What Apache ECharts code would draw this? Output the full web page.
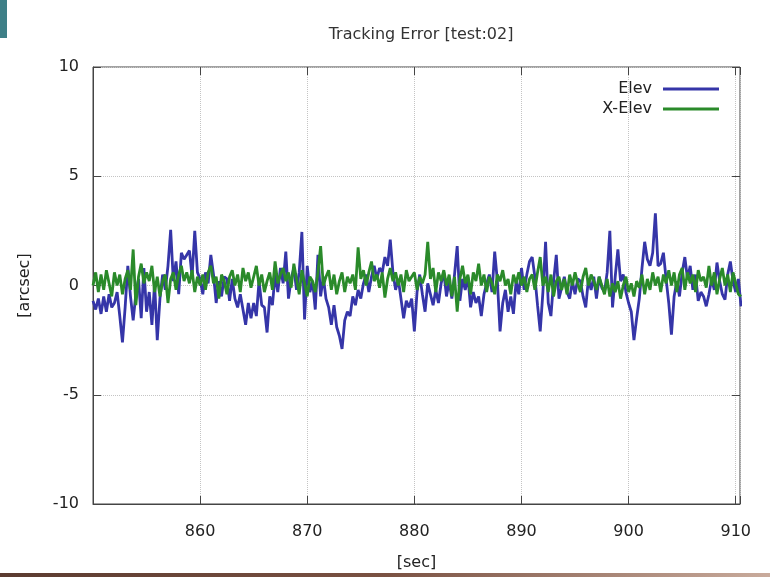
<!DOCTYPE html>
<html>
<head>
<meta charset="utf-8">
<title>Tracking Error</title>
<script src="https://cdn.jsdelivr.net/npm/echarts@6/dist/echarts.min.js"></script>
<style>
  html, body { margin: 0; padding: 0; background: #fff; }
  #main { width: 770px; height: 577px; }
</style>
</head>
<body>
<div id="main"></div>
<script>
// sample start / step of the recording [sec]
var t0 = 850;
var dt = 0.25;

// Elev, 4 samples per second
var elev = [
  -0.7, -1.1, -0.6, -1.3,
  -0.5, -1.2, -0.4, -1.0,
  -0.8, -0.3, -1.4, -2.6,
  -1.0, 0.9, -0.5, -1.6,
  -0.4, 0.3, -1.5, 0.8,
  -1.2, -0.3, -1.8, 0.1,
  -2.5, -0.6, 0.5, -0.2,
  0.9, 2.55, 0.2, 1.1,
  -0.4, 1.5, 1.2, 1.4,
  1.6, 0.4, 2.5, 0.6,
  0.3, -0.4, 0.6, 0.1,
  1.4, 0.5, -0.8, 0.2,
  -0.5, 0.4, 0.3, -0.7,
  0.3, -0.6, -1.0, -0.4,
  -1.1, -1.8, -0.8, -1.5,
  -0.8, -1.4, 0.2, -0.9,
  -1.0, -2.15, -0.5, -0.9,
  0.5, -0.3, 0.8, 0.1,
  1.55, -0.6, 0.3, 0.8,
  -0.2, 0.6, 2.45, -1.55,
  0.9, -0.3, 0.2, -1.1,
  1.4, -0.5, 0.4, -0.6,
  -1.0, -1.8, -0.9, -1.9,
  -2.3, -2.9, -1.6, -1.2,
  -1.4, -0.5, -0.9, -0.2,
  -0.6, 0.1, 0.5, -0.3,
  0.4, 0.9, 0.3, 0.8,
  0.6, 1.3, 0.9, 2.1,
  0.6, -0.2, 0.3, -0.6,
  -1.5, -0.7, -1.0, -0.6,
  -2.1, -0.3, 0.5, -0.4,
  -1.2, 0.1, -0.4, -0.9,
  -0.2, -0.8, 0.1, 0.6,
  -0.5, 0.2, -0.6, 0.5,
  1.8, -0.7, 0.3, -0.2,
  0.4, -1.0, -0.3, -0.8,
  -0.5, -1.4, -0.4, 0.1,
  0.5, -0.3, 1.55, 0.2,
  -2.1, -0.8, -0.2, -1.2,
  -0.5, -1.3, 0.2, -0.4,
  0.8, -0.2, 0.5, 1.1,
  1.3, 0.4, -0.9, -2.1,
  -0.3, 2.0, -0.8, -1.4,
  0.2, 1.4, -0.6, -0.1,
  0.4, -0.3, -0.6, 0.2,
  -0.4, 0.3, 0.2, -0.5,
  -1.0, 0.3, -0.2, 0.4,
  -0.6, 0.4, -0.1, -0.3,
  0.6, 2.5, -1.0, 0.4,
  1.65, 0.2, 0.5, -0.3,
  -0.8, -1.2, -2.5, -1.5,
  -0.6, 0.8, 2.0, 1.2,
  0.9, 1.5, 3.3, 0.9,
  1.0, 1.5, 0.3, -0.8,
  -2.25, -0.5, 0.2, -0.5,
  0.6, 1.3, 0.3, 0.9,
  -0.2, 0.5, -0.7, -0.3,
  -0.5, -0.95, -0.4, 0.3,
  -0.2, 1.05, 0.2, -0.4,
  -0.65, 0.5, 1.1, 0.2,
  -0.3, 0.3, -0.95
];

// X-Elev
var xelev = [
  0.0, 0.6, -0.3, 0.5,
  -0.2, 0.7, 0.1, -0.5,
  0.6, 0.0, 0.5, -0.4,
  0.3, 0.7, -0.2, 1.65,
  -0.9, 0.4, 1.0, 0.1,
  0.6, 0.2, 0.9, -0.3,
  0.4, -0.5, 0.2, 0.5,
  -0.8, 0.3, 0.6, -0.2,
  0.5, 0.9, 0.2, 0.6,
  0.1, 0.7, -0.3, 0.4,
  0.0, 0.5, -0.2, 0.6,
  0.9, 0.1, 0.4, -0.6,
  0.5, 0.2, -0.4, 0.4,
  0.7, 0.0, 0.5, -0.3,
  0.8, 0.2, 0.6, -0.1,
  0.4, 0.9, 0.0, 0.5,
  -0.3, 0.2, 0.6, -0.2,
  1.1, 0.1, 0.5, 0.8,
  0.2, 0.6, -0.1, 1.0,
  0.3, -0.4, 0.7, 0.1,
  -0.5, 0.4, 0.2, -0.3,
  0.6, 1.8, 0.0, 0.4,
  0.7, -0.2, 0.5, -0.4,
  0.2, 0.6, -0.3, 0.4,
  0.1, 0.5, -0.2, 1.75,
  0.3, 0.7, 0.0, 0.6,
  1.1, 0.2, 0.5, -0.1,
  0.6, -0.55, 0.3, 0.8,
  0.2, 0.6, 0.0, 0.5,
  -0.3, 0.7, 0.2, 0.4,
  0.6, -0.2, 0.4, 0.1,
  0.5, 2.0, 0.3, 0.8,
  -0.3, 0.6, 0.2, 0.7,
  0.0, 0.5, -0.5, 0.4,
  -1.2, 0.3, 0.9, 0.1,
  0.5, -0.4, 0.6, 0.2,
  1.0, 0.0, 0.5, -0.3,
  0.4, 0.1, -0.4, 0.5,
  0.2, 0.7, 0.0, 0.3,
  -0.4, 0.5, 0.1, 0.6,
  0.0, 0.4, -0.3, 0.3,
  0.5, -0.2, 0.6, 1.3,
  0.0, 0.4, -0.3, 0.5,
  -0.5, 0.2, 0.4, -0.2,
  0.3, -0.4, 0.5, 0.0,
  0.6, 0.1, -0.3, 0.4,
  0.8, 0.0, 0.5, 0.2,
  -0.2, 0.4, 0.0, -0.4,
  0.3, -0.5, 0.1, -0.3,
  0.2, -0.6, 0.0, 0.4,
  -0.3, 0.1, -0.5, 0.2,
  -0.1, 0.5, -0.4, 0.3,
  -0.2, 0.6, 0.0, 0.4,
  -0.3, 0.5, 0.1, 0.7,
  0.0, 0.6, -0.3, 0.5,
  0.8, -0.2, 0.6, 0.1,
  0.5, -0.3, 0.7, 0.2,
  0.4, -0.1, 0.9, 0.0,
  0.6, -0.4, 0.3, 0.8,
  0.0, 0.5, -0.3, 0.6,
  0.1, -0.4, -0.5
];

var xTicks = [860, 870, 880, 890, 900, 910];
var seriesNames = ['Elev', 'X-Elev'];

var FONT = 'DejaVu Sans';

var toPairs = function (vals) {
    var res = [];
    for (var i = 0; i < vals.length; i++) {
        res.push([t0 + i * dt, vals[i]]);
    }
    return res;
};

var myChart = echarts.init(document.getElementById('main'));

var mirrorTick = { show: true, inside: true, length: 8, lineStyle: { color: '#444' } };
var legendBase = {
    orient: 'vertical',
    right: 46,
    align: 'right',
    icon: 'rect',
    itemWidth: 56,
    itemHeight: 3,
    textStyle: { fontSize: 16, color: '#222', fontFamily: FONT, padding: [0, 6, 0, 0] }
};

option = {
    backgroundColor: '#fff',
    animation: false,
    title: {
        text: 'Tracking Error [test:02]',
        left: 416,
        textAlign: 'center',
        top: 22,
        textStyle: { fontSize: 16, fontWeight: 'normal', color: '#333', fontFamily: FONT }
    },
    legend: [
        echarts.util.merge({ data: [seriesNames[0]], top: 76 }, legendBase, false),
        echarts.util.merge({ data: [seriesNames[1]], top: 96 }, legendBase, false)
    ],
    grid: {
        left: 93, right: 30, top: 67, bottom: 73,
        show: true, borderColor: '#444', borderWidth: 1
    },
    xAxis: [{
        type: 'value',
        min: 850, max: 910.4, interval: 10,
        name: '[sec]', nameLocation: 'middle', nameGap: 51,
        nameTextStyle: { fontSize: 16, color: '#222', fontFamily: FONT },
        axisLine: { show: true, onZero: false, lineStyle: { color: '#444' } },
        axisTick: mirrorTick,
        axisLabel: {
            fontSize: 16, color: '#222', fontFamily: FONT, margin: 20,
            formatter: function (v) { return xTicks.indexOf(v) >= 0 ? String(v) : ''; }
        },
        splitLine: { show: true, lineStyle: { color: '#c4c4c4', type: 'dotted' } }
    }, {
        type: 'value', position: 'top',
        min: 850, max: 910.4, interval: 10,
        axisLine: { show: false, onZero: false }, axisTick: mirrorTick,
        axisLabel: { show: false }, splitLine: { show: false }
    }],
    yAxis: [{
        type: 'value',
        min: -10, max: 10, interval: 5,
        name: '[arcsec]', nameLocation: 'middle', nameGap: 60, nameRotate: 90,
        nameTextStyle: { fontSize: 16, color: '#222', fontFamily: FONT },
        axisLine: { show: true, onZero: false, lineStyle: { color: '#444' } },
        axisTick: mirrorTick,
        axisLabel: { fontSize: 16, color: '#222', fontFamily: FONT, margin: 14 },
        splitLine: { show: true, lineStyle: { color: '#c4c4c4', type: 'dotted' } }
    }, {
        type: 'value', position: 'right',
        min: -10, max: 10, interval: 5,
        axisLine: { show: false, onZero: false }, axisTick: mirrorTick,
        axisLabel: { show: false }, splitLine: { show: false }
    }],
    series: [{
        name: seriesNames[0],
        type: 'line',
        data: toPairs(elev),
        showSymbol: false,
        color: '#3535a8',
        lineStyle: { width: 2.8, color: '#3535a8' }
    }, {
        name: seriesNames[1],
        type: 'line',
        data: toPairs(xelev),
        showSymbol: false,
        color: '#2a8a2a',
        lineStyle: { width: 2.8, color: '#2a8a2a' }
    }],
    graphic: [{
        type: 'rect',
        shape: { x: 0, y: 0, width: 7, height: 38 },
        style: { fill: '#3e7f87' }
    }, {
        type: 'rect',
        shape: { x: 0, y: 573, width: 770, height: 4 },
        style: {
            fill: new echarts.graphic.LinearGradient(0, 0, 1, 0, [
                { offset: 0, color: '#5b3b30' },
                { offset: 0.5, color: '#7a5142' },
                { offset: 1, color: '#c9ab9c' }
            ])
        }
    }]
};

myChart.setOption(option);
</script>
</body>
</html>
